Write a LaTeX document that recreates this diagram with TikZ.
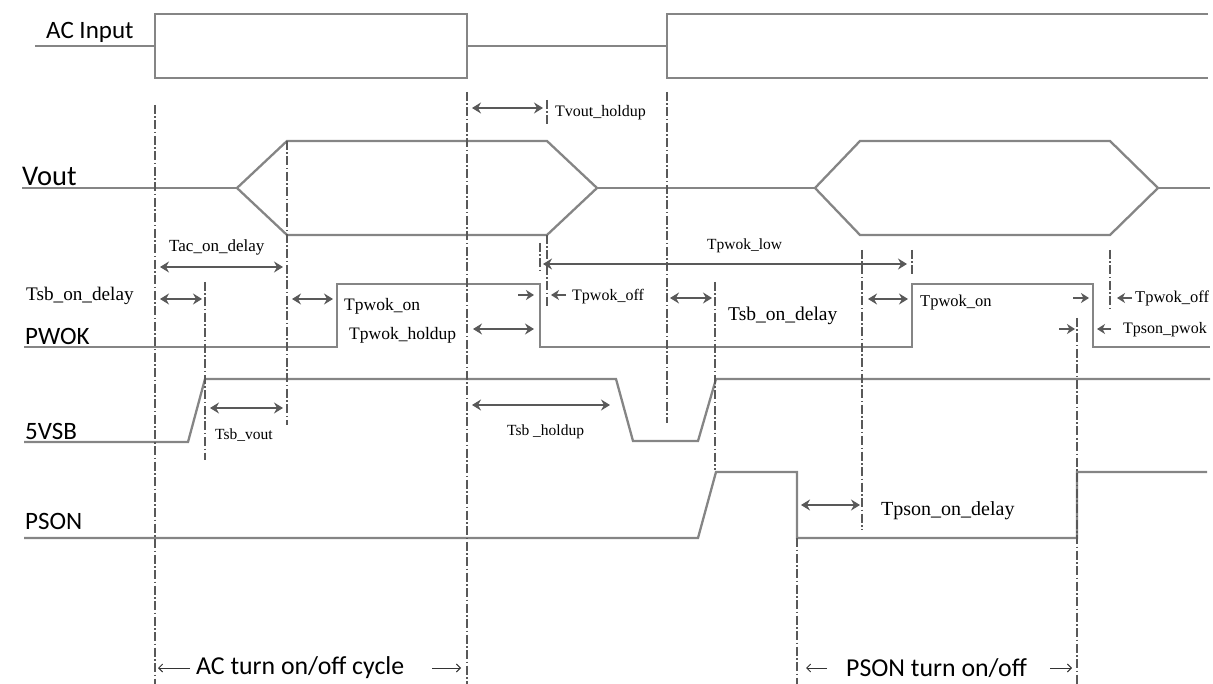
\documentclass[tikz,border=0pt]{standalone}
\usepackage{fontspec}
\setmainfont{Liberation Serif}
\newfontfamily\sigfont{Carlito}
\usetikzlibrary{arrows.meta}

\begin{document}
\begin{tikzpicture}[x=1pt, y=-1pt,
    wave/.style={draw=black!48, line width=2.3pt, line join=miter},
    gridline/.style={black!65, line width=1.1pt, dash pattern=on 9pt off 2.5pt on 1.5pt off 2.5pt},
    dimarr/.style={black!65, line width=2pt, {Stealth[length=9pt,width=11pt,inset=3pt]}-{Stealth[length=9pt,width=11pt,inset=3pt]}},
    edgearr/.style={black!65, line width=1.7pt, -{Stealth[length=8pt,width=10pt,inset=2.5pt]}},
    cyclearr/.style={black!80, line width=0.9pt, -{Straight Barb[length=4pt,width=8pt]}},
    sig/.style={font=\sigfont\fontsize{25}{29}\selectfont, anchor=west, inner sep=0pt},
    lbl/.style={font=\fontsize{16}{19}\selectfont, anchor=west, inner sep=0pt},
    biglbl/.style={font=\fontsize{19.5}{23}\selectfont, anchor=west, inner sep=0pt}]

    \useasboundingbox (0,0) rectangle (1213,684);

    % ==========================================
    % DEFINE PARAMETERS (x of the edges, y of the levels)
    % ==========================================

    \def\xAcOn{155}    % AC applied
    \def\xAcOff{467}   % AC removed
    \def\xAcBack{667}  % AC applied again
    \def\xPsOff{797}   % PSON goes low
    \def\xPsOn{1077}   % PSON goes high

    \def\yHi{284}      % PWOK high
    \def\yLo{347}      % PWOK low

    % ==========================================
    % SIGNAL NAMES
    % ==========================================

    \node[sig] (L_ac)   at (46,32)  {AC Input};
    \node[sig, font=\sigfont\fontsize{28.5}{32}\selectfont] (L_vout) at (22,176) {Vout};
    \node[sig] (L_pwok) at (25,336) {PWOK};
    \node[sig] (L_vsb)  at (25,431) {5VSB};
    \node[sig] (L_pson) at (25,521) {PSON};

    % ==========================================
    % WAVEFORMS
    % ==========================================

    % AC Input
    \draw[wave] (35,46) -- (\xAcOn,46);
    \draw[wave] (\xAcOn,14) rectangle (\xAcOff,78);
    \draw[wave] (\xAcOff,46) -- (\xAcBack,46);
    \draw[wave] (1208,14) -- (\xAcBack,14) -- (\xAcBack,78) -- (1208,78);

    % Vout
    \draw[wave] (22,188) -- (237,188);
    \draw[wave] (237,188) -- (287,141) -- (547,141) -- (597,188) -- (547,235) -- (287,235) -- cycle;
    \draw[wave] (597,188) -- (815,188);
    \draw[wave] (815,188) -- (860,141) -- (1110,141) -- (1158,188) -- (1110,235) -- (860,235) -- cycle;
    \draw[wave] (1158,188) -- (1210,188);

    % PWOK
    \draw[wave] (24,\yLo) -- (337,\yLo) -- (337,\yHi) -- (540,\yHi) -- (540,\yLo)
        -- (912,\yLo) -- (912,\yHi) -- (1093,\yHi) -- (1093,\yLo) -- (1210,\yLo);

    % 5VSB
    \draw[wave] (24,442) -- (188,442) -- (205,379) -- (616,379) -- (633,441)
        -- (698,441) -- (716,379) -- (1210,379);

    % PSON
    \draw[wave] (24,538) -- (698,538) -- (716,472) -- (\xPsOff,472) -- (\xPsOff,538)
        -- (\xPsOn,538) -- (\xPsOn,472) -- (1207,472);

    % ==========================================
    % DASH-DOT REFERENCE LINES
    % ==========================================

    \draw[gridline] (\xAcOn,105) -- (\xAcOn,684);
    \draw[gridline] (\xAcOff,92) -- (\xAcOff,684);
    \draw[gridline] (\xAcBack,92) -- (\xAcBack,423);
    \draw[gridline] (287,141) -- (287,425);
    \draw[gridline] (205,282) -- (205,460);
    \draw[gridline] (547,100) -- (547,127);
    \draw[gridline] (547,235) -- (547,308);
    \draw[gridline] (540,243) -- (540,272);
    \draw[gridline] (715,282) -- (715,470);
    \draw[gridline] (862,250) -- (862,530);
    \draw[gridline] (912,250) -- (912,275);
    \draw[gridline] (1110,250) -- (1110,310);
    \draw[gridline] (\xPsOn,318) -- (\xPsOn,684);
    \draw[gridline] (\xPsOff,538) -- (\xPsOff,684);

    % ==========================================
    % TIMING ARROWS & LABELS
    % ==========================================

    % Tvout_holdup
    \coordinate (vh_l) at (472,108);
    \coordinate (vh_r) at (543,108);
    \draw[dimarr] (vh_l) -- (vh_r);
    \node[lbl] (T_vh) at (555,113) {Tvout\_holdup};

    % Tac_on_delay
    \coordinate (ac_l) at (160,267);
    \coordinate (ac_r) at (283,267);
    \draw[dimarr] (ac_l) -- (ac_r);
    \node[lbl, font=\fontsize{17}{20}\selectfont] (T_ac) at (169,247) {Tac\_on\_delay};

    % Tsb_on_delay (first)
    \coordinate (sb1_l) at (160,299);
    \coordinate (sb1_r) at (202,299);
    \draw[dimarr] (sb1_l) -- (sb1_r);
    \node[lbl, font=\fontsize{19.2}{22}\selectfont] (T_sb1) at (26,296) {Tsb\_on\_delay};

    % Tpwok_on (first)
    \coordinate (po1_l) at (292,299);
    \coordinate (po1_r) at (333,299);
    \draw[dimarr] (po1_l) -- (po1_r);
    \node[lbl, font=\fontsize{17.5}{20}\selectfont] (T_po1) at (344,306) {Tpwok\_on};

    % Tpwok_holdup
    \coordinate (ph_l) at (473,329);
    \coordinate (ph_r) at (534,329);
    \draw[dimarr] (ph_l) -- (ph_r);
    \node[lbl, font=\fontsize{17.5}{20}\selectfont] (T_ph) at (349,335) {Tpwok\_holdup};

    % Tpwok_off (first)
    \coordinate (pf1_a) at (518,295);
    \coordinate (pf1_b) at (534,295);
    \coordinate (pf1_c) at (566,295);
    \coordinate (pf1_d) at (551,295);
    \draw[edgearr] (pf1_a) -- (pf1_b);
    \draw[edgearr] (pf1_c) -- (pf1_d);
    \node[lbl] (T_pf1) at (572,297) {Tpwok\_off};

    % Tpwok_low
    \coordinate (pl_l) at (543,264);
    \coordinate (pl_r) at (907,264);
    \draw[dimarr] (pl_l) -- (pl_r);
    \node[lbl, font=\fontsize{15.5}{18}\selectfont] (T_pl) at (707,246) {Tpwok\_low};

    % Tsb_on_delay (second)
    \coordinate (sb2_l) at (670,298);
    \coordinate (sb2_r) at (712,298);
    \draw[dimarr] (sb2_l) -- (sb2_r);
    \node[biglbl] (T_sb2) at (728,316) {Tsb\_on\_delay};

    % Tpwok_on (second)
    \coordinate (po2_l) at (868,299);
    \coordinate (po2_r) at (908,299);
    \draw[dimarr] (po2_l) -- (po2_r);
    \node[lbl, font=\fontsize{16.5}{19}\selectfont] (T_po2) at (920,303) {Tpwok\_on};

    % Tpwok_off (second)
    \coordinate (pf2_a) at (1073,298);
    \coordinate (pf2_b) at (1089,298);
    \coordinate (pf2_c) at (1132,298);
    \coordinate (pf2_d) at (1117,298);
    \draw[edgearr] (pf2_a) -- (pf2_b);
    \draw[edgearr] (pf2_c) -- (pf2_d);
    \node[lbl, font=\fontsize{16.5}{19}\selectfont] (T_pf2) at (1135,298) {Tpwok\_off};

    % Tpson_pwok
    \coordinate (pp_a) at (1059,329);
    \coordinate (pp_b) at (1075,329);
    \coordinate (pp_c) at (1111,329);
    \coordinate (pp_d) at (1097,329);
    \draw[edgearr] (pp_a) -- (pp_b);
    \draw[edgearr] (pp_c) -- (pp_d);
    \node[lbl] (T_pp) at (1123,330) {Tpson\_pwok};

    % Tsb_vout
    \coordinate (sv_l) at (210,408);
    \coordinate (sv_r) at (283,408);
    \draw[dimarr] (sv_l) -- (sv_r);
    \node[lbl, font=\fontsize{15.5}{18}\selectfont] (T_sv) at (215,435) {Tsb\_vout};

    % Tsb_holdup
    \coordinate (sh_l) at (472,405);
    \coordinate (sh_r) at (610,405);
    \draw[dimarr] (sh_l) -- (sh_r);
    \node[lbl, font=\fontsize{15.5}{18}\selectfont] (T_sh) at (507,432) {Tsb \_holdup};

    % Tpson_on_delay
    \coordinate (pd_l) at (801,505);
    \coordinate (pd_r) at (860,505);
    \draw[dimarr] (pd_l) -- (pd_r);
    \node[biglbl, font=\fontsize{20}{24}\selectfont] (T_pd) at (881,511) {Tpson\_on\_delay};

    % ==========================================
    % CYCLE SPANS AT THE BOTTOM
    % ==========================================

    \node[sig, font=\sigfont\fontsize{25.8}{29}\selectfont] (C_ac) at (196,668) {AC turn on/off cycle};
    \coordinate (ca_l) at (158,668);
    \coordinate (ca_r) at (461,668);
    \draw[cyclearr] (C_ac.west) ++(-6,0) -- (ca_l);
    \draw[cyclearr] (C_ac.east) ++(28,0) -- (ca_r);

    \node[sig, font=\sigfont\fontsize{25.8}{29}\selectfont] (C_ps) at (846,668) {PSON turn on/off};
    \coordinate (cp_l) at (806,668);
    \coordinate (cp_r) at (1072,668);
    \draw[cyclearr] (C_ps.west) ++(-19,0) -- (cp_l);
    \draw[cyclearr] (C_ps.east) ++(23,0) -- (cp_r);

\end{tikzpicture}
\end{document}
